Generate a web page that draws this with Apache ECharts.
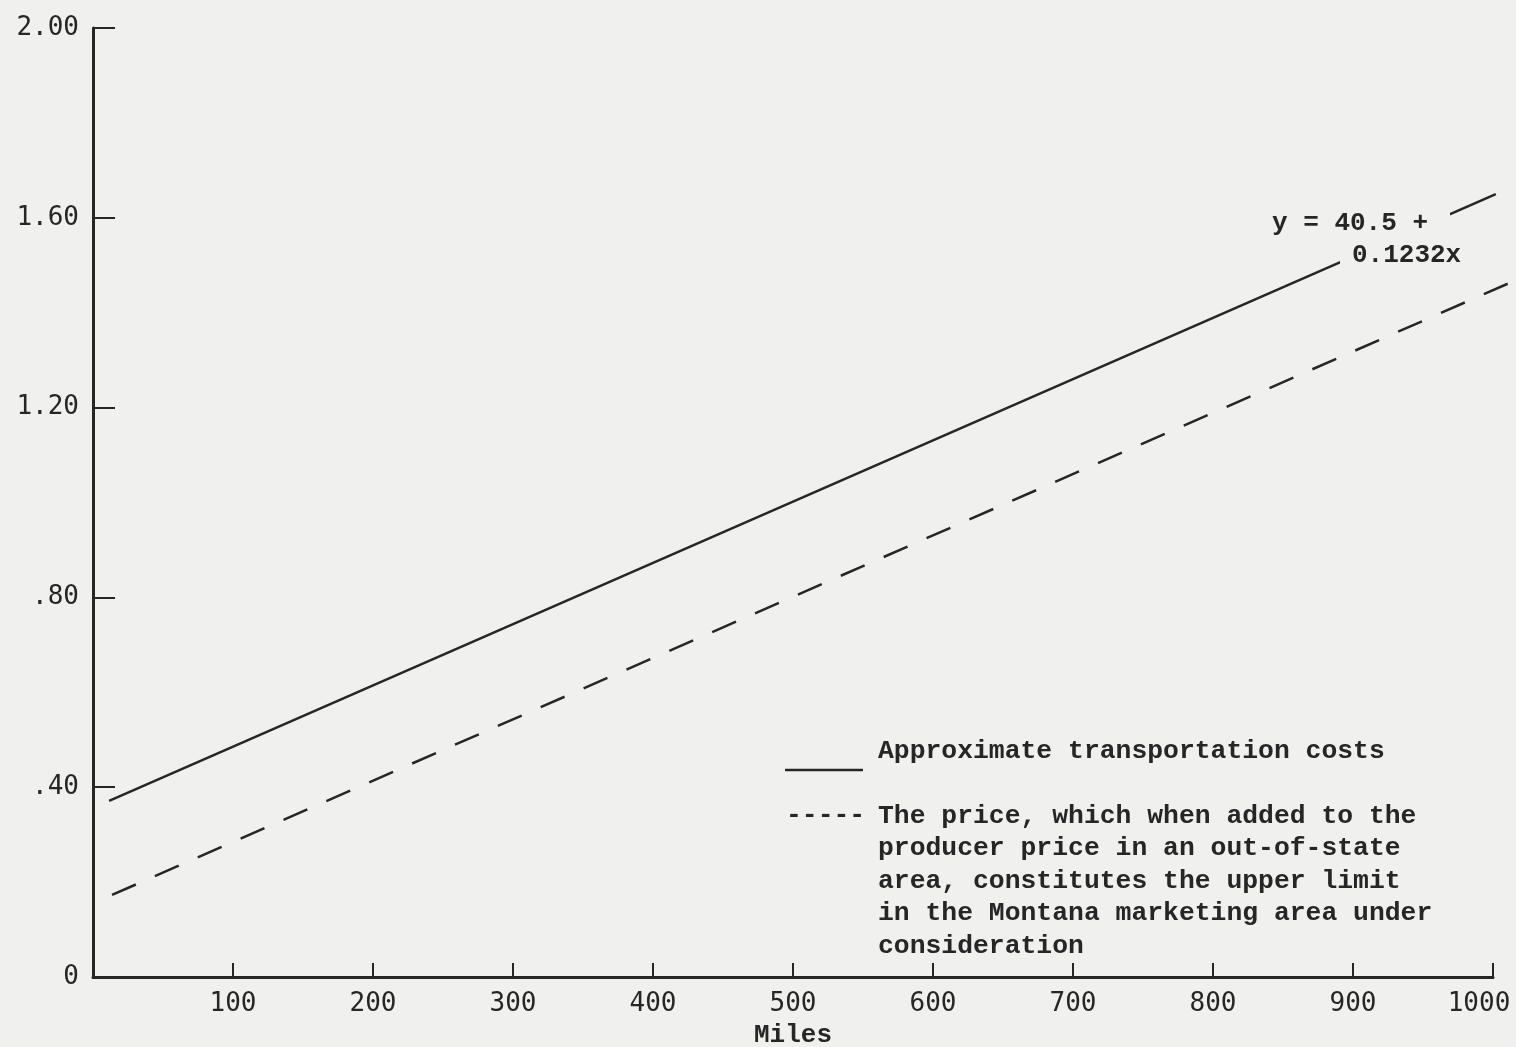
<!DOCTYPE html>
<html>
<head>
<meta charset="utf-8">
<script src="https://cdn.jsdelivr.net/npm/echarts@6/dist/echarts.min.js"></script>
<style>
    html, body { margin: 0; padding: 0; background: #f0f0ee; }
    #chart { width: 1516px; height: 1047px; }
</style>
</head>
<body>
<div id="chart"></div>
<script>
// values: [miles, dollars]
const transportCosts = [[11.5, 0.371], [1002, 1.650]];
const upperLimitPrice = [[13.6, 0.173], [1012, 1.463]];

const yTickValues = [0, 0.4, 0.8, 1.2, 1.6, 2.0];
const yTickLabels = ['0', '.40', '.80', '1.20', '1.60', '2.00'];
const xTickLabels = ['', '100', '200', '300', '400', '500', '600', '700', '800', '900', '1000'];

const legendNames = ['Approximate transportation costs',
    'The price, which when added to the\nproducer price in an out-of-state\narea, constitutes the upper limit\nin the Montana marketing area under\nconsideration'];
const equationLines = ['y = 40.5 +', '0.1232x'];

const ink = '#262626';
const paper = '#f0f0ee';
const typeFont = '"Liberation Mono", "DejaVu Sans Mono", monospace';
const tickFont = '"DejaVu Sans Mono", "Liberation Mono", monospace';

const W = 1516;
const plotLeft = 93, plotRight = 23, lineRight = 4;
const xMax = 1000;
// the drawn lines run a little past the 1000 mile tick, so they get a slightly wider
// (hidden) grid with the same miles-per-pixel scale
const xMaxLines = xMax * (W - lineRight - plotLeft) / (W - plotRight - plotLeft);

const chart = echarts.init(document.getElementById('chart'));

const option = {
    backgroundColor: paper,
    animation: false,
    grid: [
        { left: plotLeft, right: plotRight, top: 28, bottom: 70, outerBoundsMode: 'none' },
        { left: plotLeft, right: lineRight, top: 28, bottom: 70, outerBoundsMode: 'none' }
    ],
    xAxis: [{
        type: 'value',
        gridIndex: 0,
        min: 0,
        max: xMax,
        interval: 100,
        name: 'Miles',
        nameLocation: 'middle',
        nameGap: 45,
        nameTextStyle: { fontFamily: typeFont, fontSize: 26, fontWeight: 'bold', color: ink },
        axisLine: { lineStyle: { color: ink, width: 3 } },
        axisTick: { inside: true, length: 14, lineStyle: { color: ink, width: 2 } },
        axisLabel: {
            margin: 14,
            fontFamily: tickFont,
            fontSize: 26,
            color: ink,
            formatter: (v) => {
                const i = Math.round(v / 100);
                // last label sits a little left of its tick, as typed
                return i === xTickLabels.length - 1 ? '{last|' + xTickLabels[i] + '}' : xTickLabels[i];
            },
            rich: {
                last: { fontFamily: tickFont, fontSize: 26, color: ink, padding: [0, 28, 0, 0] }
            }
        },
        splitLine: { show: false }
    }, {
        type: 'value',
        gridIndex: 1,
        min: 0,
        max: xMaxLines,
        show: false
    }],
    yAxis: [{
        type: 'value',
        gridIndex: 0,
        min: 0,
        max: 2,
        interval: 0.4,
        axisLine: { show: true, lineStyle: { color: ink, width: 3 } },
        axisTick: { show: true, inside: true, length: 22, lineStyle: { color: ink, width: 2 } },
        axisLabel: {
            margin: 14,
            fontFamily: tickFont,
            fontSize: 26,
            color: ink,
            formatter: (v) => {
                const i = yTickValues.findIndex(t => Math.abs(t - v) < 1e-6);
                return i >= 0 ? yTickLabels[i] : '';
            }
        },
        splitLine: { show: false }
    }, {
        type: 'value',
        gridIndex: 1,
        min: 0,
        max: 2,
        show: false
    }],
    series: [{
        name: legendNames[0],
        type: 'line',
        xAxisIndex: 1,
        yAxisIndex: 1,
        data: transportCosts,
        symbol: 'none',
        clip: false,
        lineStyle: { color: ink, width: 2.5 }
    }, {
        name: legendNames[1],
        type: 'line',
        xAxisIndex: 1,
        yAxisIndex: 1,
        data: upperLimitPrice,
        symbol: 'none',
        clip: false,
        lineStyle: { color: ink, width: 2.5, type: [26, 20.8] }
    }],
    graphic: [
        // equation note, with a paper coloured box that breaks the line behind it
        {
            type: 'text', left: 1262, top: 208, z: 100,
            style: {
                text: equationLines[0], font: 'bold 26px ' + typeFont, fill: ink,
                backgroundColor: paper, padding: [2, 22, 8, 10]
            }
        },
        {
            type: 'text', left: 1340, top: 240, z: 100,
            style: {
                text: equationLines[1], font: 'bold 26px ' + typeFont, fill: ink,
                backgroundColor: paper, padding: [2, 4, 2, 12]
            }
        },
        // legend, typed like the original
        {
            type: 'line', z: 100,
            shape: { x1: 785, y1: 770, x2: 863, y2: 770 },
            style: { stroke: ink, lineWidth: 2.5 }
        },
        {
            type: 'text', left: 878, top: 738, z: 100,
            style: { text: legendNames[0], font: 'bold 26.4px ' + typeFont, fill: ink }
        },
        {
            type: 'text', left: 786, top: 802, z: 100,
            style: { text: '-----', font: 'bold 26.4px ' + typeFont, fill: ink }
        },
        {
            type: 'text', left: 878, top: 800, z: 100,
            style: { text: legendNames[1], font: 'bold 26.4px ' + typeFont, fill: ink, lineHeight: 32.5 }
        }
    ]
};

chart.setOption(option);
</script>
</body>
</html>
